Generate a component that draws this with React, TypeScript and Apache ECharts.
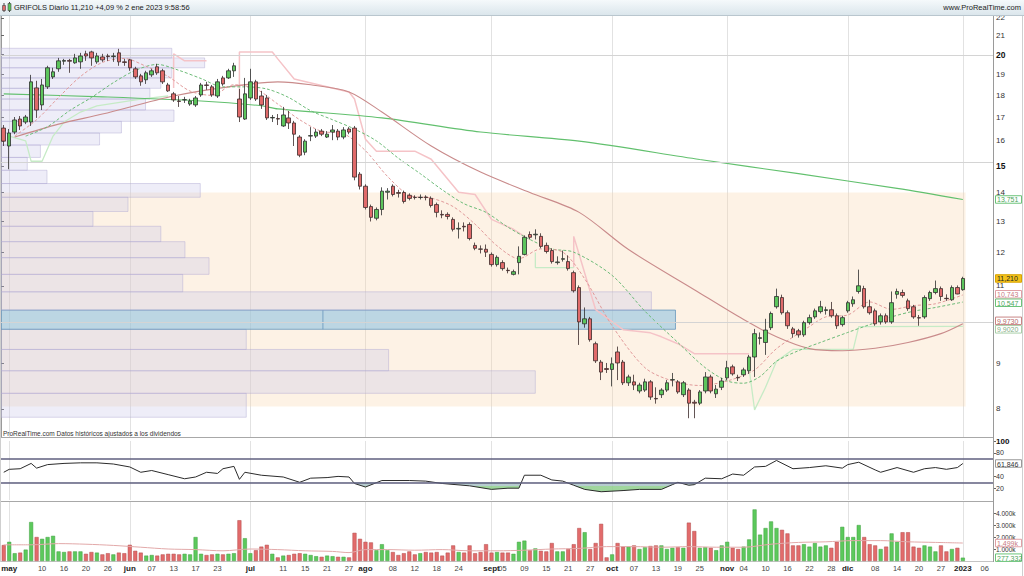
import React, { useEffect, useRef } from 'react';
import * as echarts from 'echarts';

// ---------- calendar (trading days shown on the axis) ----------
const MONTH_DAYS: [string, number[]][] = [
  ['2022-04', [29]],
  ['2022-05', [2, 3, 4, 5, 6, 9, 10, 11, 12, 13, 16, 17, 18, 19, 20, 23, 24, 25, 26, 27, 30, 31]],
  ['2022-06', [1, 2, 3, 6, 7, 8, 9, 10, 13, 14, 15, 16, 17, 20, 21, 22, 23, 24, 27, 28, 29, 30]],
  ['2022-07', [1, 4, 5, 6, 7, 8, 11, 12, 13, 14, 15, 18, 19, 20, 21, 22, 25, 26, 27, 28, 29]],
  ['2022-08', [1, 2, 3, 4, 5, 8, 9, 10, 11, 12, 15, 16, 17, 18, 19, 22, 23, 24, 25, 26, 29, 30, 31]],
  ['2022-09', [1, 2, 5, 6, 7, 8, 9, 12, 13, 14, 15, 16, 19, 20, 21, 22, 23, 26, 27, 28, 29, 30]],
  ['2022-10', [3, 4, 5, 6, 7, 10, 11, 12, 13, 14, 17, 18, 19, 20, 21, 24, 25, 26, 27, 28, 31]],
  ['2022-11', [1, 2, 3, 4, 7, 8, 9, 10, 11, 14, 15, 16, 17, 18, 21, 22, 23, 24, 25, 28, 29, 30]],
  ['2022-12', [1, 2, 5, 6, 7, 8, 9, 12, 13, 14, 15, 16, 19, 20, 21, 22, 23, 27, 28, 29, 30]],
  ['2023-01', [2, 3, 4, 5, 6, 9]],
];

const TICK_LABELS: [string, string, boolean][] = [
  ['2022-05-02', 'may', true], ['2022-05-10', '10', false], ['2022-05-16', '16', false], ['2022-05-20', '20', false], ['2022-05-26', '26', false],
  ['2022-06-01', 'jun', true], ['2022-06-07', '07', false], ['2022-06-13', '13', false], ['2022-06-17', '17', false], ['2022-06-23', '23', false],
  ['2022-07-01', 'jul', true], ['2022-07-11', '11', false], ['2022-07-15', '15', false], ['2022-07-21', '21', false], ['2022-07-27', '27', false],
  ['2022-08-01', 'ago', true], ['2022-08-08', '08', false], ['2022-08-12', '12', false], ['2022-08-18', '18', false], ['2022-08-24', '24', false],
  ['2022-09-01', 'sept', true], ['2022-09-05', '05', false], ['2022-09-09', '09', false], ['2022-09-15', '15', false], ['2022-09-21', '21', false], ['2022-09-27', '27', false],
  ['2022-10-03', 'oct', true], ['2022-10-07', '07', false], ['2022-10-13', '13', false], ['2022-10-19', '19', false], ['2022-10-25', '25', false],
  ['2022-11-01', 'nov', true], ['2022-11-04', '04', false], ['2022-11-10', '10', false], ['2022-11-16', '16', false], ['2022-11-22', '22', false], ['2022-11-28', '28', false],
  ['2022-12-01', 'dic', true], ['2022-12-08', '08', false], ['2022-12-14', '14', false], ['2022-12-20', '20', false], ['2022-12-27', '27', false],
  ['2023-01-02', '2023', true], ['2023-01-06', '06', false],
];

// ---------- daily OHLC (29 abr 2022 .. 2 ene 2023) ----------
const OPEN = [
  16.54, 15.79, 16.37, 16.93, 16.80, 16.80, 18.35, 17.56, 18.40, 18.88,
  19.28, 19.66, 19.70, 19.58, 19.63, 20.04, 20.14, 19.63, 19.88, 19.93,
  19.90, 20.09, 19.63, 19.73, 19.28, 18.93, 18.74, 18.98, 19.38, 19.18,
  18.49, 18.07, 17.74, 17.79, 17.60, 17.56, 18.02, 18.49, 18.40, 17.97,
  18.83, 18.83, 19.18, 17.83, 16.93, 17.88, 18.64, 17.97, 17.88, 16.98,
  16.95, 16.63, 16.98, 16.76, 16.16, 15.54, 16.20, 16.20, 16.41, 16.16,
  16.37, 16.41, 16.16, 16.50, 16.54, 14.68, 14.23, 13.50, 13.10, 13.40,
  14.01, 14.23, 14.00, 14.00, 13.90, 13.83, 13.82, 13.84, 13.79, 13.57,
  13.23, 13.23, 13.06, 12.74, 12.83, 12.89, 12.21, 12.10, 12.09, 11.93,
  11.62, 11.68, 11.45, 11.33, 11.68, 11.93, 12.56, 12.55, 12.50, 12.21,
  12.05, 11.68, 11.78, 11.71, 11.38, 10.95, 9.97, 10.10, 9.47, 9.03,
  8.88, 8.86, 9.27, 9.03, 8.56, 8.58, 8.38, 8.40, 8.58, 8.22,
  8.30, 8.40, 8.62, 8.58, 8.30, 8.40, 8.14, 8.12, 8.38, 8.69,
  8.32, 8.46, 8.67, 8.92, 8.68, 8.74, 8.83, 9.15, 9.60, 9.50,
  9.87, 10.42, 10.67, 10.26, 9.84, 9.79, 9.69, 10.00, 10.15, 10.29,
  10.32, 10.34, 10.18, 9.95, 10.31, 10.50, 10.84, 10.92, 10.42, 10.31,
  10.02, 10.18, 10.02, 10.76, 10.81, 10.58, 10.42, 10.13, 10.15, 10.64,
  10.81, 10.92, 10.65, 10.61, 10.95, 10.89,
];
const HIGH = [
  16.67, 16.50, 17.02, 17.06, 17.11, 18.98, 18.69, 18.78, 19.43, 19.33,
  19.83, 19.78, 19.78, 20.04, 20.09, 20.20, 20.20, 20.09, 20.04, 20.04,
  20.09, 20.30, 19.78, 19.78, 19.38, 19.03, 19.18, 19.28, 19.53, 19.28,
  18.59, 18.16, 17.97, 17.93, 17.84, 17.97, 18.59, 18.64, 18.49, 18.78,
  18.93, 19.28, 19.58, 18.30, 18.83, 19.28, 18.74, 18.21, 18.02, 17.11,
  17.15, 17.47, 17.29, 16.85, 16.24, 16.07, 16.58, 16.50, 16.50, 16.41,
  16.67, 16.50, 16.58, 16.58, 16.63, 14.76, 14.30, 13.57, 13.47, 14.19,
  14.16, 14.30, 14.10, 14.07, 13.97, 13.90, 13.93, 13.90, 13.86, 13.64,
  13.37, 13.30, 13.13, 12.96, 12.96, 12.96, 12.30, 12.21, 12.24, 11.99,
  11.90, 11.75, 11.53, 11.47, 12.18, 12.53, 12.66, 12.73, 12.60, 12.30,
  12.12, 11.87, 12.05, 11.90, 11.44, 11.01, 10.40, 10.15, 9.52, 9.08,
  9.01, 9.14, 9.40, 9.08, 8.74, 8.74, 8.56, 8.65, 8.62, 8.46,
  8.44, 8.62, 8.78, 8.62, 8.60, 8.44, 8.19, 8.40, 8.80, 8.74,
  8.51, 8.67, 9.06, 8.97, 8.74, 8.90, 9.20, 9.84, 9.75, 10.10,
  10.29, 10.92, 10.75, 10.32, 9.89, 9.84, 10.05, 10.21, 10.37, 10.58,
  10.42, 10.55, 10.24, 10.18, 10.58, 10.70, 11.47, 11.00, 10.61, 10.37,
  10.24, 10.24, 10.84, 10.92, 10.89, 10.64, 10.47, 10.20, 10.73, 10.86,
  11.15, 10.98, 10.76, 11.01, 11.01, 11.26,
];
const LOW = [
  15.79, 14.87, 16.28, 16.46, 16.71, 16.63, 16.98, 17.33, 18.30, 18.78,
  19.13, 19.48, 19.08, 19.53, 19.28, 19.68, 19.43, 19.53, 19.63, 19.68,
  19.63, 19.43, 19.43, 19.18, 18.78, 18.45, 18.54, 18.88, 18.98, 18.54,
  18.16, 17.70, 17.47, 17.65, 17.52, 17.47, 17.93, 18.26, 17.93, 17.88,
  18.45, 18.78, 18.88, 16.80, 16.89, 17.79, 17.74, 17.38, 16.89, 16.80,
  16.67, 16.59, 16.50, 15.79, 15.34, 15.42, 15.99, 16.12, 16.20, 16.12,
  16.03, 16.03, 16.07, 16.28, 14.45, 14.11, 13.40, 12.99, 13.03, 13.20,
  13.75, 13.86, 13.82, 13.61, 13.72, 13.75, 13.75, 13.72, 13.47, 13.13,
  13.10, 13.06, 12.66, 12.43, 12.66, 12.37, 12.06, 11.96, 11.85, 11.56,
  11.56, 11.44, 11.36, 11.30, 11.33, 11.90, 12.40, 12.40, 12.12, 11.96,
  11.65, 11.62, 11.71, 11.44, 10.81, 9.44, 9.87, 9.52, 9.01, 8.62,
  8.78, 8.48, 8.62, 8.51, 8.49, 8.40, 8.33, 8.36, 8.19, 8.11,
  8.23, 8.36, 8.48, 8.32, 8.25, 7.81, 7.81, 8.08, 8.33, 8.33,
  8.23, 8.40, 8.62, 8.72, 8.60, 8.69, 8.76, 8.69, 9.45, 9.20,
  9.81, 10.37, 10.21, 9.84, 9.62, 9.62, 9.64, 9.95, 10.10, 10.24,
  10.21, 10.13, 9.84, 9.90, 10.26, 10.42, 10.78, 10.37, 10.21, 9.92,
  9.95, 9.97, 9.97, 10.64, 10.67, 10.31, 10.10, 9.92, 10.10, 10.58,
  10.76, 10.58, 10.58, 10.58, 10.76, 10.86,
];
const CLOSE = [
  15.99, 16.33, 16.89, 16.63, 17.02, 18.64, 17.33, 18.49, 19.33, 19.13,
  19.68, 19.70, 19.66, 19.83, 19.93, 19.93, 19.83, 19.93, 19.73, 19.90,
  19.93, 19.63, 19.60, 19.33, 18.88, 18.64, 19.08, 19.18, 19.08, 18.64,
  18.21, 17.79, 17.72, 17.80, 17.74, 17.88, 18.49, 18.47, 18.02, 18.64,
  18.54, 19.18, 19.43, 17.02, 18.07, 18.64, 17.83, 17.56, 16.98, 17.00,
  16.93, 17.11, 16.76, 16.28, 15.42, 15.99, 16.22, 16.37, 16.28, 16.28,
  16.46, 16.16, 16.46, 16.37, 14.57, 14.23, 13.47, 13.13, 13.40, 14.05,
  14.05, 13.93, 13.97, 13.68, 13.79, 13.82, 13.83, 13.82, 13.54, 13.30,
  13.21, 13.16, 12.73, 12.76, 12.81, 12.43, 12.12, 12.09, 12.00, 11.62,
  11.84, 11.50, 11.44, 11.41, 11.87, 12.47, 12.47, 12.57, 12.18, 12.02,
  11.71, 11.70, 11.80, 11.50, 10.86, 10.02, 10.10, 9.57, 9.06, 8.80,
  8.86, 8.99, 9.01, 8.56, 8.69, 8.51, 8.51, 8.58, 8.25, 8.21,
  8.40, 8.56, 8.63, 8.36, 8.56, 8.12, 8.12, 8.36, 8.69, 8.38,
  8.42, 8.60, 8.90, 8.76, 8.67, 8.85, 9.15, 9.72, 9.62, 9.81,
  10.24, 10.70, 10.26, 9.92, 9.72, 9.69, 10.00, 10.13, 10.31, 10.42,
  10.34, 10.18, 9.92, 10.13, 10.53, 10.61, 11.00, 10.42, 10.26, 9.97,
  10.18, 10.02, 10.53, 10.84, 10.73, 10.37, 10.15, 10.12, 10.67, 10.81,
  10.92, 10.70, 10.64, 10.95, 10.77, 11.21,
];
// daily volume, millions of shares
const VOLUME_M = [
  1.33, 1.6, 0.65, 0.7, 0.95, 3.25, 2.0, 1.85, 2.0, 2.1,
  0.8, 0.75, 0.8, 0.8, 0.8, 0.6, 0.75, 0.7, 0.55, 0.65,
  0.55, 0.7, 0.65, 1.35, 0.85, 0.7, 0.45, 0.5, 0.45, 0.55,
  0.6, 0.6, 0.55, 0.6, 0.55, 2.0, 0.6, 0.5, 0.55, 0.6,
  0.55, 0.6, 0.65, 3.4, 1.9, 0.65, 0.9, 1.2, 1.35, 0.6,
  0.3, 0.45, 0.5, 0.6, 0.65, 0.6, 0.5, 0.4, 0.35, 0.45,
  0.4, 0.35, 0.35, 0.3, 2.35, 1.85, 1.6, 1.55, 0.9, 1.4,
  0.9, 0.75, 0.5, 0.65, 0.8, 0.55, 0.65, 0.75, 0.7, 0.75,
  0.45, 0.7, 1.3, 0.75, 0.7, 1.3, 0.65, 0.75, 1.4, 0.7,
  0.75, 0.7, 0.7, 0.6, 1.6, 1.7, 0.9, 1.05, 0.85, 0.8,
  1.5, 0.8, 0.8, 1.0, 1.4, 2.75, 2.4, 1.0, 1.5, 3.1,
  0.3, 0.55, 1.5, 1.2, 1.2, 1.3, 1.0, 1.15, 1.25, 1.3,
  1.3, 1.0, 1.1, 1.15, 1.1, 3.2, 2.5, 1.1, 1.15, 1.1,
  0.9, 1.3, 1.6, 1.1, 1.0, 1.2, 1.8, 4.3, 2.2, 2.75,
  3.3, 2.75, 2.6, 2.3, 1.3, 1.3, 1.4, 1.2, 1.5, 1.2,
  1.3, 1.1, 1.6, 2.85, 2.0, 2.0, 3.0, 2.0, 1.4, 1.3,
  1.0, 1.2, 2.3, 1.6, 2.4, 2.4, 1.2, 1.1, 1.3, 1.2,
  0.8, 1.3, 0.8, 1.0, 1.1, 0.277332,
];

// ---------- indicators: [day index, value] ----------
const MA_LONG: [number, number][] = [
  [0, 18.07], [18, 17.93], [36, 17.74], [47, 17.52], [50, 17.38], [69, 16.98], [87, 16.37],
  [105, 15.99], [127, 15.25], [145, 14.7], [163, 14.15], [175, 13.751],
];
const MA_MID: [number, number][] = [
  [2, 16.16], [10, 16.71], [18, 17.15], [31, 17.97], [41, 18.4], [50, 18.64], [56, 18.5], [63, 18.16],
  [69, 17.24], [78, 15.79], [87, 14.76], [96, 14.0], [105, 13.3], [114, 12.08], [126, 10.89],
  [135, 10.08], [141, 9.64], [147, 9.35], [153, 9.3], [159, 9.36], [165, 9.5], [171, 9.72], [175, 9.973],
];
const MA_FAST: [number, number][] = [
  [2, 16.2], [6, 16.9], [10, 17.9], [14, 18.9], [18, 19.6], [22, 19.8], [26, 19.4], [30, 18.9],
  [34, 18.2], [38, 18.0], [42, 18.5], [46, 18.3], [50, 17.6], [54, 16.9], [58, 16.4], [62, 16.3],
  [66, 15.6], [70, 14.6], [74, 13.9], [78, 13.8], [82, 13.5], [86, 12.9], [90, 12.2], [94, 11.8],
  [98, 12.1], [102, 12.0], [106, 11.2], [111, 9.92], [117, 8.9], [122, 8.6], [127, 8.5], [132, 8.6],
  [137, 8.85], [141, 9.35], [147, 9.9], [150, 10.15], [154, 10.2], [158, 10.55], [162, 10.35],
  [166, 10.45], [170, 10.5], [175, 10.743],
];
const MA_SLOW: [number, number][] = [
  [4, 16.2], [8, 16.6], [12, 17.3], [16, 17.9], [20, 18.6], [24, 19.2], [28, 19.5], [32, 19.2],
  [36, 18.8], [40, 18.4], [44, 18.4], [48, 18.3], [52, 17.9], [56, 17.3], [60, 16.9], [64, 16.5],
  [68, 16.0], [72, 15.3], [76, 14.7], [80, 14.1], [84, 13.6], [88, 13.3], [92, 12.8], [96, 12.4],
  [100, 12.1], [104, 12.0], [111, 11.3], [117, 10.3], [123, 9.5], [128, 8.9], [132, 8.6], [135, 8.55],
  [138, 8.7], [141, 9.05], [145, 9.3], [149, 9.5], [154, 9.75], [158, 9.95], [162, 10.15],
  [166, 10.3], [170, 10.4], [175, 10.547],
];
const STOP_UPPER: [number, number][][] = [
  [[31, 18.35], [31, 20.04], [33, 19.68], [37, 19.68]],
  [[43, 17.38], [43, 20.14], [49, 20.14], [50, 19.78], [53, 18.78], [63, 18.16], [64, 17.83], [66, 16.07],
    [68, 15.58], [75, 15.58], [78, 15.26], [83, 14.01], [86, 13.93], [89, 13.06], [93, 12.73], [95, 12.5]],
  [[104, 11.53], [104, 12.5], [108, 10.34], [113, 9.82], [118, 9.74], [120, 9.64], [123, 9.47], [126, 9.23], [136, 9.23]],
];
const STOP_LOWER: [number, number][][] = [
  [[1, 16.2], [4, 16.0], [5, 15.18], [7, 15.18], [9, 16.2], [11, 16.8], [14, 17.24], [17, 17.52], [25, 17.83], [30, 17.97]],
  [[97, 11.99], [97, 11.53], [104, 11.53]],
  [[136, 8.88], [137, 7.98], [139, 8.46], [141, 9.05], [144, 9.33], [155, 9.33], [156, 9.9], [175, 9.902]],
];
const VOLUME_MA_M: [number, number][] = [
  [0, 1.35], [5, 1.35], [10, 1.45], [15, 1.4], [20, 1.3], [25, 1.15], [30, 1.0], [35, 0.95], [40, 0.85],
  [45, 1.0], [50, 0.95], [55, 0.85], [60, 0.8], [63, 0.7], [66, 0.95], [70, 0.95], [75, 0.9], [80, 0.95],
  [85, 0.85], [90, 0.85], [95, 0.9], [100, 1.0], [105, 1.05], [110, 1.2], [115, 1.2], [120, 1.15],
  [125, 1.2], [130, 1.15], [135, 1.15], [140, 1.4], [145, 1.55], [150, 1.6], [155, 1.7], [160, 1.7],
  [165, 1.6], [170, 1.55], [175, 1.499],
];
const RSI: [number, number][] = [
  [0, 47], [1, 52], [3, 53], [5, 62], [6, 54], [8, 60], [11, 62], [14, 63], [17, 63], [20, 61], [23, 56],
  [25, 47], [27, 50], [30, 43], [33, 36], [35, 39], [37, 47], [39, 45], [40, 53], [42, 57], [43, 35],
  [44, 47], [47, 42], [51, 39], [54, 30], [56, 37], [59, 38], [61, 40], [63, 39], [64, 28], [66, 22],
  [69, 33], [74, 33], [77, 32], [80, 28], [85, 24], [89, 18], [92, 20], [94, 20], [95, 42], [98, 42],
  [100, 34], [102, 32], [104, 25], [106, 18], [109, 14], [113, 16], [116, 18], [120, 18], [122, 26],
  [123, 30], [125, 25], [126, 26], [128, 37], [131, 36], [133, 44], [135, 42], [137, 56], [139, 57],
  [141, 67], [144, 53], [147, 55], [150, 58], [153, 54], [154, 60], [156, 64], [159, 51], [160, 47],
  [163, 55], [166, 47], [168, 53], [170, 55], [172, 52], [174, 55], [175, 61.846],
];

// ---------- volume profile (price bins of 0.5, millions of shares) ----------
const PROFILE_BIN_LOW = [
  7.83, 8.33, 8.83, 9.33, 9.83, 10.33, 10.83, 11.33, 11.83, 12.33, 12.83, 13.33, 13.83,
  14.33, 14.83, 15.33, 15.83, 16.33, 16.83, 17.33, 17.83, 18.33, 18.83, 19.33, 19.83,
];
const PROFILE_BIN_SIZE = 0.5;
const PROFILE_VOL_M = [
  11.2, 24.4, 17.7, 11.2, 30.8, 29.7, 8.3, 9.5, 8.4, 7.3, 4.2, 5.8, 9.1,
  2.1, 1.2, 1.8, 4.5, 5.5, 7.9, 6.6, 6.8, 7.3, 7.8, 9.3, 7.8,
];
const POC_SPLIT_M = 14.7;
const PROFILE_AXIS_MAX = 45.3;
const VALUE_AREA = [8.05, 14.0];

// ---------- axis ticks ----------
const PRICE_TICKS = [8, 9, 10, 11, 12, 13, 14, 15, 16, 17, 18, 19, 20, 21, 22];
const PRICE_LABELS = [8, 9, 11, 12, 13, 14, 15, 16, 17, 18, 19, 20, 21, 22];
const PRICE_MAJOR = [10, 15, 20];
const PRICE_RANGE = [7.44, 22.1];
const RSI_TICKS = [20, 40, 80, 100];
const RSI_LEVELS = [70, 30];
const VOL_MAX = 4.92e6;
const VOL_TICKS = [1e6, 2e6, 3e6, 4e6];

const FONT = '"Liberation Sans", Arial, Helvetica, sans-serif';

type Tag = { value: number; text: string; fill: string; stroke: string; color: string };
const PRICE_TAGS: Tag[] = [
  { value: 13.751, text: '13,751', fill: '#fff', stroke: '#6cc47a', color: '#4ea55c' },
  { value: 11.21, text: '11,210', fill: '#f3c21b', stroke: '#d9a400', color: '#222' },
  { value: 10.743, text: '10,743', fill: '#fff', stroke: '#e0a0a6', color: '#c97a82' },
  { value: 10.547, text: '10,547', fill: '#fff', stroke: '#6cc47a', color: '#4ea55c' },
  { value: 9.973, text: '9,9730', fill: '#fff', stroke: '#c98585', color: '#b56a6a' },
  { value: 9.902, text: '9,9020', fill: '#fff', stroke: '#a9cfa9', color: '#86ad86' },
];
const RSI_TAGS: Tag[] = [{ value: 61.846, text: '61,846', fill: '#fff', stroke: '#999', color: '#333' }];
const VOL_TAGS: Tag[] = [
  { value: 1.499e6, text: '1.499k', fill: '#fff', stroke: '#e0a0a6', color: '#c97a82' },
  { value: 277332, text: '277.332', fill: '#fff', stroke: '#6cc47a', color: '#4ea55c' },
];

function buildOption() {
  const lg = (v: number) => Math.log10(v);
  const DATES = MONTH_DAYS.flatMap(([m, days]) => days.map((d) => `${m}-${String(d).padStart(2, '0')}`));
  const LAST = CLOSE.length - 1;
  const labelMap = new Map(TICK_LABELS.map(([d, t, b]) => [d, { t, b }]));
  const monthStarts = new Set(TICK_LABELS.filter((x) => x[2]).map((x) => x[0]));

  const cat = (gridIndex: number, labels: boolean): any => ({
    type: 'category',
    gridIndex,
    data: DATES,
    boundaryGap: true,
    axisLine: { show: labels, lineStyle: { color: '#c4c4c4' } },
    axisTick: { show: false },
    axisLabel: labels
      ? {
          interval: (_i: number, v: string) => labelMap.has(v),
          formatter: (v: string) => {
            const l = labelMap.get(v);
            if (!l) return '';
            return l.b ? `{m|${l.t}}` : `{n|${l.t}}`;
          },
          margin: 3,
          rich: {
            m: { fontWeight: 'bold', fontSize: 8, color: '#222', fontFamily: FONT },
            n: { fontSize: 7.5, color: '#444', fontFamily: FONT },
          },
        }
      : { show: false },
    splitLine: {
      show: true,
      alignWithLabel: true,
      interval: (_i: number, v: string) => monthStarts.has(v),
      lineStyle: { color: '#e2e2e2', width: 1 },
    },
  });

  const tagSeries = (xAxisIndex: number, yAxisIndex: number, tags: Tag[], toAxis: (v: number) => number): any => ({
    type: 'custom',
    xAxisIndex,
    yAxisIndex,
    z: 30,
    silent: true,
    clip: false,
    data: tags.map((t) => [LAST, toAxis(t.value)]),
    renderItem: (params: any, api: any) => {
      const cs = params.coordSys;
      const h = 8.5;
      const ys = tags.map((t) => api.coord([LAST, toAxis(t.value)])[1]);
      const order = ys.map((_y, i) => i).sort((a, b) => ys[a] - ys[b]);
      const pos = ys.slice();
      for (let it = 0; it < 20; it++) {
        for (let k = 1; k < order.length; k++) {
          const a = order[k - 1];
          const b = order[k];
          const ov = h - (pos[b] - pos[a]);
          if (ov > 0) {
            pos[a] -= ov / 2;
            pos[b] += ov / 2;
          }
        }
      }
      const t = tags[params.dataIndex];
      const y = pos[params.dataIndex];
      const x0 = cs.x + cs.width + 2;
      return {
        type: 'group',
        children: [
          { type: 'rect', shape: { x: x0 + 0.5, y: y - h / 2 + 0.5, width: 26, height: h - 1 }, style: { fill: t.fill, stroke: t.stroke, lineWidth: 1 } },
          { type: 'text', style: { x: x0 + 2, y: y + 0.5, text: t.text, fill: t.color, font: `7px ${FONT}`, verticalAlign: 'middle', align: 'left' } },
        ],
      };
    },
  });

  const lineSeries = (pts: [number, number][], color: string, width: number, dashed: boolean, z: number, smooth: number, extra: any = {}): any => ({
    type: 'line',
    xAxisIndex: 0,
    yAxisIndex: 0,
    data: pts.map(([i, v]) => [i, lg(v)]),
    symbol: 'none',
    showSymbol: false,
    smooth,
    silent: true,
    z,
    lineStyle: { color, width, type: dashed ? [3, 2] : 'solid' },
    ...extra,
  });

  const series: any[] = [];

  // value area background
  series.push({
    type: 'custom',
    xAxisIndex: 0,
    yAxisIndex: 0,
    z: 0,
    silent: true,
    data: [[LAST, lg(VALUE_AREA[0]), lg(VALUE_AREA[1])]],
    renderItem: (params: any, api: any) => {
      const cs = params.coordSys;
      const top = api.coord([api.value(0), api.value(2)]);
      const bot = api.coord([api.value(0), api.value(1)]);
      const half = api.size([1, 0])[0] / 2;
      return {
        type: 'rect',
        shape: { x: cs.x, y: top[1], width: top[0] + half - cs.x, height: bot[1] - top[1] },
        style: { fill: 'rgba(250,212,170,0.3)' },
      };
    },
  });

  // volume profile
  const pocIndex = PROFILE_VOL_M.indexOf(Math.max(...PROFILE_VOL_M));
  series.push({
    type: 'custom',
    xAxisIndex: 1,
    yAxisIndex: 0,
    z: 1,
    silent: true,
    data: PROFILE_BIN_LOW.map((lo, k) => [PROFILE_VOL_M[k], lg(lo), lg(lo + PROFILE_BIN_SIZE)]),
    renderItem: (params: any, api: any) => {
      const cs = params.coordSys;
      const hi = api.coord([api.value(0), api.value(2)]);
      const lo = api.coord([api.value(0), api.value(1)]);
      const isPoc = params.dataIndex === pocIndex;
      const shape = { x: cs.x, y: hi[1], width: hi[0] - cs.x, height: lo[1] - hi[1] };
      const children: any[] = [
        {
          type: 'rect',
          shape,
          style: isPoc
            ? { fill: 'rgba(135,192,225,0.55)', stroke: 'rgba(95,145,185,0.75)', lineWidth: 1 }
            : { fill: 'rgba(200,194,232,0.3)', stroke: 'rgba(175,168,210,0.45)', lineWidth: 1 },
        },
      ];
      if (isPoc) {
        const sx = api.coord([POC_SPLIT_M, api.value(1)])[0];
        children.push({ type: 'line', shape: { x1: sx, y1: hi[1], x2: sx, y2: lo[1] }, style: { stroke: 'rgba(95,145,185,0.75)', lineWidth: 1 } });
      }
      return { type: 'group', children };
    },
  });

  // moving averages & stops
  series.push(
    lineSeries(MA_LONG, '#62c06e', 1.1, false, 3, 0.3, {
      markLine: {
        silent: true,
        symbol: 'none',
        label: { show: false },
        lineStyle: { color: '#d4d4d4', width: 1, type: 'solid' },
        data: PRICE_MAJOR.map((p) => ({ yAxis: lg(p) })),
      },
    }),
  );
  series.push(lineSeries(MA_MID, '#c98b8b', 1.1, false, 3, 0.3));
  series.push(lineSeries(MA_SLOW, '#6dbb78', 1, true, 3, 0.3));
  series.push(lineSeries(MA_FAST, '#e09a9a', 1, true, 3, 0.3));
  STOP_UPPER.forEach((seg) => series.push(lineSeries(seg, '#f5c3c7', 1.5, false, 2, 0)));
  STOP_LOWER.forEach((seg) => series.push(lineSeries(seg, '#c6ebc6', 1.3, false, 2, 0)));

  // candles
  series.push({
    type: 'candlestick',
    xAxisIndex: 0,
    yAxisIndex: 0,
    z: 5,
    silent: true,
    barWidth: 4,
    data: OPEN.map((o, i) => [lg(o), lg(CLOSE[i]), lg(LOW[i]), lg(HIGH[i])]),
    itemStyle: { color: '#5cc55c', color0: '#e06a6a', borderColor: '#2d2d2d', borderColor0: '#3a2a2a', borderWidth: 0.8 },
  });
  series.push(tagSeries(0, 0, PRICE_TAGS, lg));

  // RSI
  const rsiAreaIndex = series.length;
  series.push({
    type: 'line',
    xAxisIndex: 2,
    yAxisIndex: 1,
    data: RSI,
    symbol: 'none',
    silent: true,
    z: 2,
    lineStyle: { width: 0, opacity: 0 },
    areaStyle: { origin: 30, opacity: 0.85 },
  });
  series.push({
    type: 'line',
    xAxisIndex: 2,
    yAxisIndex: 1,
    data: RSI,
    symbol: 'none',
    silent: true,
    z: 3,
    lineStyle: { color: '#2b2b2b', width: 1 },
    markLine: {
      silent: true,
      symbol: 'none',
      label: { show: false },
      lineStyle: { color: '#5f5f7f', width: 1.5, type: 'solid' },
      data: RSI_LEVELS.map((v) => ({ yAxis: v })),
    },
  });
  series.push(tagSeries(2, 1, RSI_TAGS, (v) => v));

  // volume
  series.push({
    type: 'bar',
    xAxisIndex: 3,
    yAxisIndex: 2,
    silent: true,
    barWidth: 4,
    z: 2,
    data: VOLUME_M.map((v, i) => ({
      value: v * 1e6,
      itemStyle:
        CLOSE[i] >= OPEN[i]
          ? { color: '#5cc95c', borderColor: '#3f9f3f', borderWidth: 0.5 }
          : { color: '#e26b6b', borderColor: '#b04a4a', borderWidth: 0.5 },
    })),
  });
  series.push({
    type: 'line',
    xAxisIndex: 3,
    yAxisIndex: 2,
    data: VOLUME_MA_M.map(([i, v]) => [i, v * 1e6]),
    symbol: 'none',
    smooth: 0.3,
    silent: true,
    z: 3,
    lineStyle: { color: '#e2a9a9', width: 1 },
  });
  series.push(tagSeries(3, 2, VOL_TAGS, (v) => v));

  const axisText = { fontSize: 8, color: '#333', fontFamily: FONT };

  return {
    animation: false,
    backgroundColor: '#ffffff',
    textStyle: { fontFamily: FONT },
    grid: [
      { left: 1, right: 31, top: 16, height: 421, outerBoundsMode: 'none' },
      { left: 1, right: 31, top: 441, height: 59, outerBoundsMode: 'none' },
      { left: 1, right: 31, top: 502, height: 59, outerBoundsMode: 'none' },
    ],
    xAxis: [
      cat(0, false),
      { type: 'value', gridIndex: 0, min: 0, max: PROFILE_AXIS_MAX, show: false },
      cat(1, false),
      cat(2, true),
    ],
    yAxis: [
      {
        type: 'value',
        gridIndex: 0,
        position: 'right',
        min: lg(PRICE_RANGE[0]),
        max: lg(PRICE_RANGE[1]),
        axisLine: { show: true, lineStyle: { color: '#9a9a9a' } },
        axisTick: { show: true, length: 3, customValues: PRICE_TICKS.map(lg), lineStyle: { color: '#666' } },
        axisLabel: {
          ...axisText,
          margin: 3,
          customValues: PRICE_LABELS.map(lg),
          formatter: (v: number) => {
            const p = Math.round(Math.pow(10, v));
            return PRICE_MAJOR.includes(p) ? `{b|${p}}` : `${p}`;
          },
          rich: { b: { fontWeight: 'bold', fontSize: 8.5, color: '#111', fontFamily: FONT } },
        },
        splitLine: { show: false },
      },
      {
        type: 'value',
        gridIndex: 1,
        position: 'right',
        min: 0,
        max: 100,
        axisLine: { show: true, lineStyle: { color: '#9a9a9a' } },
        axisTick: { show: true, length: 3, customValues: RSI_TICKS, lineStyle: { color: '#666' } },
        axisLabel: {
          ...axisText,
          fontSize: 7,
          margin: 3,
          customValues: RSI_TICKS,
          formatter: (v: number) => (v === 100 ? `{b|${v}}` : `${v}`),
          rich: { b: { fontWeight: 'bold', fontSize: 8, color: '#111', fontFamily: FONT } },
        },
        splitLine: { show: false },
      },
      {
        type: 'value',
        gridIndex: 2,
        position: 'right',
        min: 0,
        max: VOL_MAX,
        axisLine: { show: true, lineStyle: { color: '#9a9a9a' } },
        axisTick: { show: true, length: 3, customValues: VOL_TICKS, lineStyle: { color: '#666' } },
        axisLabel: {
          ...axisText,
          fontSize: 6.5,
          margin: 3,
          customValues: VOL_TICKS,
          formatter: (v: number) => `${Math.round(v / 1e6)}.000k`,
        },
        splitLine: { show: false },
      },
    ],
    visualMap: [
      {
        type: 'piecewise',
        show: false,
        seriesIndex: rsiAreaIndex,
        dimension: 1,
        pieces: [
          { lt: 24, color: '#8fcf8c' },
          { gte: 24, lt: 30, color: '#a9c3c6' },
          { gte: 30, color: 'rgba(255,255,255,0)' },
        ],
      },
    ],
    series,
    graphic: [
      {
        type: 'rect',
        z: 100,
        shape: { x: 0, y: 0, width: 1024, height: 15 },
        style: {
          fill: new echarts.graphic.LinearGradient(0, 0, 0, 1, [
            { offset: 0, color: '#f5f9fb' },
            { offset: 1, color: '#dbe6ec' },
          ]),
        },
      },
      { type: 'line', z: 101, shape: { x1: 0, y1: 15.5, x2: 1024, y2: 15.5 }, style: { stroke: '#b9c6ce', lineWidth: 1 } },
      { type: 'line', z: 101, shape: { x1: 4, y1: 3, x2: 4, y2: 12 }, style: { stroke: '#444', lineWidth: 1 } },
      { type: 'rect', z: 102, shape: { x: 2.5, y: 5.5, width: 3, height: 5 }, style: { fill: '#e06a6a', stroke: '#444', lineWidth: 0.6 } },
      { type: 'line', z: 101, shape: { x1: 9.5, y1: 2, x2: 9.5, y2: 12 }, style: { stroke: '#444', lineWidth: 1 } },
      { type: 'rect', z: 102, shape: { x: 8, y: 3.5, width: 3, height: 7 }, style: { fill: '#5cc55c', stroke: '#444', lineWidth: 0.6 } },
      {
        type: 'text',
        z: 102,
        style: { x: 14, y: 7.5, text: 'GRIFOLS Diario 11,210 +4,09 % 2 ene 2023 9:58:56', font: `7.5px ${FONT}`, fill: '#222', verticalAlign: 'middle' },
      },
      {
        type: 'text',
        z: 102,
        style: { x: 1021, y: 7.5, text: 'www.ProRealTime.com', font: `7.5px ${FONT}`, fill: '#222', align: 'right', verticalAlign: 'middle' },
      },
      {
        type: 'text',
        z: 50,
        style: { x: 3, y: 433, text: 'ProRealTime.com Datos históricos ajustados a los dividendos', font: `6.5px ${FONT}`, fill: '#333', verticalAlign: 'middle' },
      },
      { type: 'line', z: 50, shape: { x1: 0, y1: 437.5, x2: 994, y2: 437.5 }, style: { stroke: '#a8a8a8', lineWidth: 1 } },
      { type: 'line', z: 50, shape: { x1: 0, y1: 501.5, x2: 994, y2: 501.5 }, style: { stroke: '#a8a8a8', lineWidth: 1 } },
      { type: 'line', z: 50, shape: { x1: 993.5, y1: 15, x2: 993.5, y2: 562 }, style: { stroke: '#9a9a9a', lineWidth: 1 } },
      { type: 'line', z: 50, shape: { x1: 0.5, y1: 15, x2: 0.5, y2: 562 }, style: { stroke: '#cfcfcf', lineWidth: 1 } },
      { type: 'line', z: 50, shape: { x1: 1022.5, y1: 15, x2: 1022.5, y2: 576 }, style: { stroke: '#cfcfcf', lineWidth: 1 } },
    ],
  };
}

export default function App() {
  const ref = useRef<HTMLDivElement>(null);
  useEffect(() => {
    if (!ref.current) return;
    const chart = echarts.init(ref.current, undefined, { renderer: 'svg' });
    chart.setOption(buildOption() as any);
    return () => chart.dispose();
  }, []);
  return <div ref={ref} style={{ position: 'fixed', left: 0, top: 0, width: 1024, height: 576, background: '#fff' }} />;
}
